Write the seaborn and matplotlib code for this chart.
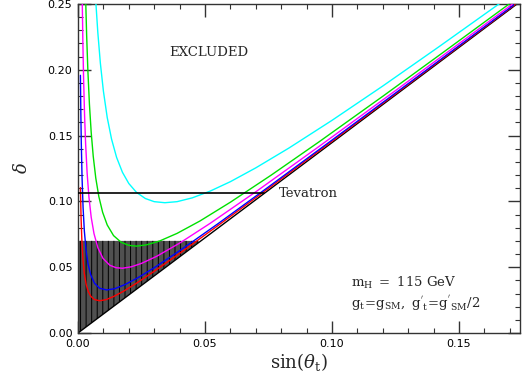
import numpy as np
import pandas as pd
import matplotlib
matplotlib.use("Agg")
import matplotlib.pyplot as plt
from matplotlib.ticker import MultipleLocator
import seaborn as sns

# ---- data ----
red_x = [0.00095, 0.0012, 0.0015, 0.0020, 0.0025, 0.0032, 0.0040, 0.0050, 0.0065, 0.0085,
         0.0110, 0.0140, 0.0180, 0.0230, 0.0300, 0.0400, 0.0550, 0.0750, 0.1000, 0.1300, 0.1720]
red_y = [0.1105, 0.0882, 0.0713, 0.0547, 0.0451, 0.0370, 0.0317, 0.0280, 0.0254, 0.0245,
         0.0253, 0.0277, 0.0318, 0.0378, 0.0469, 0.0605, 0.0815, 0.1099, 0.1457, 0.1889, 0.2495]

blue_x = [0.00095, 0.0011, 0.0013, 0.0016, 0.0020, 0.0025, 0.0032, 0.0040, 0.0050, 0.0065,
          0.0085, 0.0113, 0.0145, 0.0185, 0.0235, 0.0300, 0.0400, 0.0550, 0.0750, 0.1000,
          0.1300, 0.1715]
blue_y = [0.1958, 0.1695, 0.1440, 0.1177, 0.0952, 0.0775, 0.0624, 0.0520, 0.0442, 0.0378,
          0.0340, 0.0327, 0.0337, 0.0368, 0.0419, 0.0496, 0.0625, 0.0829, 0.1110, 0.1466,
          0.1895, 0.2492]

magenta_x = [0.00168, 0.0019, 0.0022, 0.0026, 0.0030, 0.0036, 0.0043, 0.0052, 0.0063, 0.0078,
             0.0098, 0.0125, 0.0150, 0.0175, 0.0210, 0.0250, 0.0310, 0.0400, 0.0520, 0.0700,
             0.0950, 0.1250, 0.1710]
magenta_y = [0.2512, 0.2227, 0.1932, 0.1645, 0.1437, 0.1213, 0.1034, 0.0879, 0.0755, 0.0649,
             0.0568, 0.0515, 0.0496, 0.0492, 0.0503, 0.0529, 0.0583, 0.0683, 0.0833, 0.1073,
             0.1419, 0.1842, 0.2499]

green_x = [0.00305, 0.0034, 0.0039, 0.0045, 0.0052, 0.0060, 0.0070, 0.0082, 0.0097, 0.0115,
           0.0140, 0.0170, 0.0200, 0.0230, 0.0270, 0.0320, 0.0390, 0.0480, 0.0600, 0.0760,
           0.0950, 0.1200, 0.1450, 0.1700]
green_y = [0.2513, 0.2264, 0.1987, 0.1738, 0.1523, 0.1342, 0.1177, 0.1037, 0.0917, 0.0821,
           0.0740, 0.0689, 0.0666, 0.0660, 0.0670, 0.0698, 0.0757, 0.0851, 0.0994, 0.1199,
           0.1454, 0.1799, 0.2150, 0.2504]

cyan_x = [0.0070, 0.0078, 0.0088, 0.0100, 0.0115, 0.0132, 0.0152, 0.0175, 0.0200, 0.0230,
          0.0265, 0.0300, 0.0342, 0.0390, 0.0450, 0.0520, 0.0600, 0.0700, 0.0830, 0.1000,
          0.1200, 0.1420, 0.1660]
cyan_y = [0.2520, 0.2284, 0.2051, 0.1838, 0.1638, 0.1474, 0.1334, 0.1221, 0.1136, 0.1069,
          0.1022, 0.0998, 0.0990, 0.0998, 0.1027, 0.1078, 0.1150, 0.1255, 0.1405, 0.1616,
          0.1877, 0.2174, 0.2504]

black_x = [0.0, 0.1728]
black_y = [0.0, 0.2500]

# Tevatron bound and the hatched (allowed) region
tev_x = [0.0, 0.0734]
tev_y = [0.1062, 0.1062]
hatch_x = [0.0, 0.0475]
hatch_lo = [0.0, 0.0690]
hatch_hi = [0.070, 0.070]

curves = {
    "red": (red_x, red_y),
    "blue": (blue_x, blue_y),
    "magenta": (magenta_x, magenta_y),
    "green": (green_x, green_y),
    "cyan": (cyan_x, cyan_y),
}
colors = {"red": "#ff0000", "blue": "#0000ff", "magenta": "#ff00ff",
          "green": "#00e000", "cyan": "#00ffff"}

rows = []
for name, (xs, ys) in curves.items():
    for i, (a, b) in enumerate(zip(xs, ys)):
        rows.append({"curve": name, "order": i, "s": a, "delta": b})
df = pd.DataFrame(rows)

# ---- style ----
sns.set_style("ticks")
plt.rcParams["font.family"] = ["DejaVu Sans"]
plt.rcParams["mathtext.fontset"] = "dejavuserif"
plt.rcParams["hatch.linewidth"] = 0.7

fig = plt.figure(figsize=(5.23, 3.76), dpi=100)
ax = fig.add_axes([78 / 523, 43 / 376, 442 / 523, 329 / 376])

ax.fill_between(hatch_x, hatch_lo, hatch_hi, facecolor="#505050", edgecolor="black",
                hatch="|||", linewidth=0, zorder=1)

sns.lineplot(data=df, x="s", y="delta", hue="curve", units="curve", estimator=None,
             sort=False, palette=colors, linewidth=1.0, legend=False, ax=ax, zorder=3)
sns.lineplot(x=black_x, y=black_y, color="black", linewidth=1.0, ax=ax, zorder=2.5)
sns.lineplot(x=tev_x, y=tev_y, color="black", linewidth=1.2, ax=ax, zorder=4)

ax.set_xlim(0, 0.174)
ax.set_ylim(0, 0.25)

ax.xaxis.set_major_locator(MultipleLocator(0.05))
ax.xaxis.set_minor_locator(MultipleLocator(0.01))
ax.yaxis.set_major_locator(MultipleLocator(0.05))
ax.yaxis.set_minor_locator(MultipleLocator(0.01))
ax.xaxis.set_major_formatter(lambda v, p: f"{v:.2f}")
ax.yaxis.set_major_formatter(lambda v, p: f"{v:.2f}")
ax.tick_params(which="both", direction="in", top=True, right=True, colors="#333333",
               labelcolor="black", labelsize=8)
ax.tick_params(which="major", length=9, width=1.0, pad=4)
ax.tick_params(which="minor", length=3.5, width=0.8)
for sp in ax.spines.values():
    sp.set_color("#333333")
    sp.set_linewidth(1.0)

ax.set_xlabel(r"$\sin(\theta_{\rm t})$", fontsize=13, labelpad=2)
ax.set_ylabel(r"$\delta$", fontsize=13, labelpad=12)

ax.text(0.0513, 0.213, "EXCLUDED", family="DejaVu Serif", fontsize=9.5,
        ha="center", va="center")
ax.text(0.0790, 0.1062, "Tevatron", family="DejaVu Serif", fontsize=9.5,
        ha="left", va="center")
ax.text(0.1075, 0.038, r"$\mathrm{m_H\ =\ 115\ GeV}$", fontsize=9.5,
        ha="left", va="center")
ax.text(0.1075, 0.023, r"$\mathrm{g_t\!=\!g_{SM},\ g^{'}_{\ t}\!=\!g^{'}_{\ SM}/2}$",
        fontsize=9.5, ha="left", va="center")

fig.savefig("out.png", dpi=100)
